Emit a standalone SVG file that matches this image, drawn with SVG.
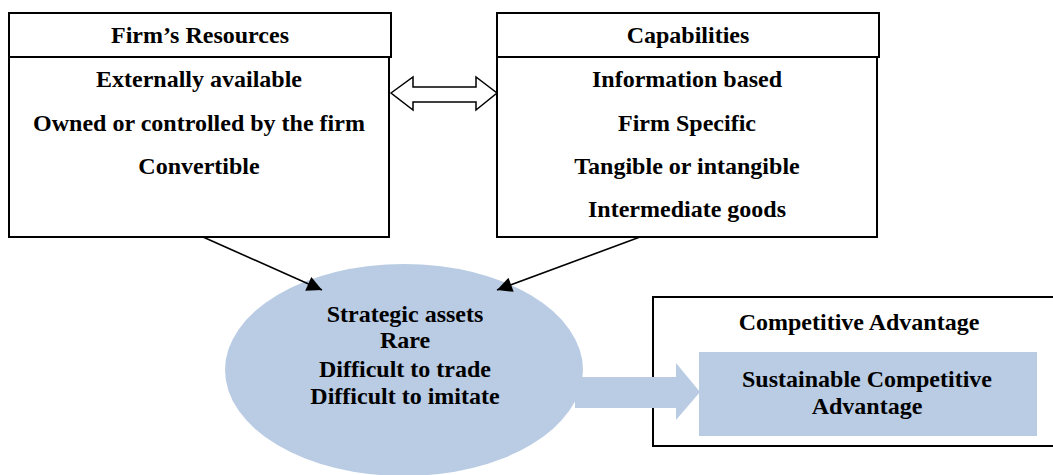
<svg xmlns="http://www.w3.org/2000/svg" width="1053" height="475" viewBox="0 0 1053 475">
<style>
text{font-family:"Liberation Serif","Times New Roman",serif;font-weight:bold;font-size:24px;fill:#000;text-anchor:middle}
.box{fill:#fff;stroke:#000;stroke-width:2}
.blue{fill:#b9cce4}
.line{stroke:#000;stroke-width:1.6;fill:none}
</style>
<defs>
<marker id="ah2" viewBox="0 0 10 10" refX="10" refY="5" markerWidth="17" markerHeight="15" markerUnits="userSpaceOnUse" orient="auto">
<path d="M0,0 L10,5 L0,10 z" fill="#000"/>
</marker>
</defs>
<rect width="1053" height="475" fill="#fff"/>
<g id="resources">
<rect class="box" x="9" y="13" width="382" height="44"/>
<rect class="box" x="9" y="57" width="380" height="180"/>
<text x="200" y="43">Firm’s Resources</text>
<text x="199" y="87">Externally available</text>
<text x="199" y="131">Owned or controlled by the firm</text>
<text x="199" y="174">Convertible</text>
</g>
<g id="capabilities">
<rect class="box" x="497" y="13" width="382" height="44"/>
<rect class="box" x="497" y="57" width="380" height="180"/>
<text x="688" y="43">Capabilities</text>
<text x="687" y="87">Information based</text>
<text x="687" y="131">Firm Specific</text>
<text x="687" y="174">Tangible or intangible</text>
<text x="687" y="217">Intermediate goods</text>
</g>
<g id="strategic-assets">
<ellipse class="blue" cx="404" cy="370" rx="179" ry="106"/>
<text x="405" y="322">Strategic assets</text>
<text x="405" y="348">Rare</text>
<text x="405" y="377">Difficult to trade</text>
<text x="405" y="404">Difficult to imitate</text>
</g>
<g id="competitive-advantage">
<rect class="box" x="653" y="297" width="410" height="149"/>
<text x="859" y="330">Competitive Advantage</text>
</g>
<g id="connectors">
<path d="M391,93 L413,77 L413,87 L476,87 L476,77 L497,93 L476,110 L476,102 L413,102 L413,110 Z" fill="#fff" stroke="#000" stroke-width="1.5" stroke-linejoin="miter"/>
<line class="line" x1="203" y1="237" x2="322" y2="290" marker-end="url(#ah2)"/>
<line class="line" x1="640" y1="237" x2="497" y2="290" marker-end="url(#ah2)"/>
<path class="blue" d="M575,377 L676,377 L676,363 L700,392 L676,420 L676,408 L575,408 Z"/>
</g>
<g id="sustainable">
<rect class="blue" x="699" y="352" width="338" height="84"/>
<text x="867" y="387">Sustainable Competitive</text>
<text x="867" y="414">Advantage</text>
</g>
</svg>
